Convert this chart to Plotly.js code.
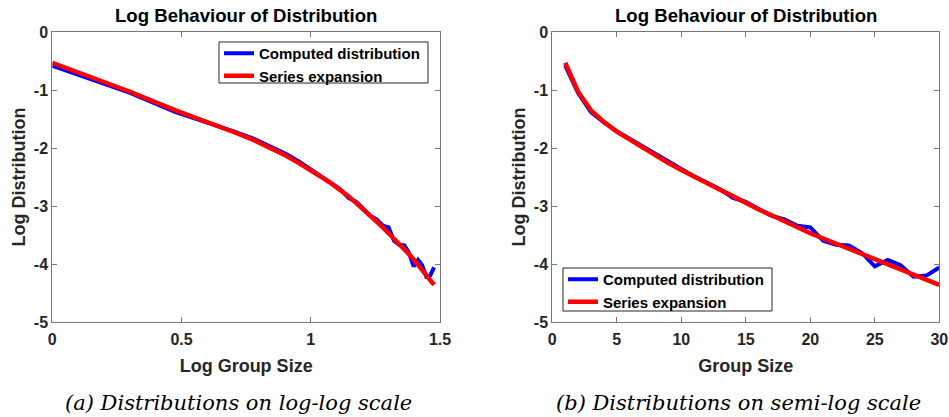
<!DOCTYPE html>
<html>
<head>
<meta charset="utf-8">
<script src="https://cdn.plot.ly/plotly-3.0.1.min.js"></script>
<style>
html,body{margin:0;padding:0;background:#fff;}
#chart{width:949px;height:417px;}
</style>
</head>
<body>
<div id="chart"></div>
<script>
// Group sizes (panel b x values)
var groupSize = [1,2,3,4,5,6,7,8,9,10,11,12,13,14,15,16,17,18,19,20,21,22,23,24,25,26,27,28,29,30];
// Log10 of group sizes (panel a x values)
var logGroupSize = [0,0.301,0.477,0.602,0.699,0.778,0.845,0.903,0.954,1,1.041,1.079,1.114,1.146,1.176,1.204,1.230,1.255,1.279,1.301,1.322,1.342,1.362,1.380,1.398,1.415,1.431,1.447,1.462,1.477];
// Log distribution: computed
var computedLog = [-0.58,-1.05,-1.38,-1.56,-1.71,-1.84,-1.97,-2.10,-2.23,-2.37,-2.49,-2.60,-2.71,-2.86,-2.93,-3.05,-3.17,-3.23,-3.34,-3.37,-3.60,-3.67,-3.68,-3.81,-4.04,-3.93,-4.02,-4.22,-4.20,-4.06];
// Log distribution: series expansion
var seriesLog = [-0.53,-1.03,-1.35,-1.55,-1.72,-1.86,-2.00,-2.13,-2.26,-2.38,-2.50,-2.61,-2.72,-2.83,-2.95,-3.06,-3.16,-3.27,-3.37,-3.47,-3.56,-3.65,-3.74,-3.83,-3.92,-4.01,-4.10,-4.19,-4.28,-4.36];

var seriesNames = ['Computed distribution','Series expansion'];
var seriesColors = ['#0000ff','#ff0000'];

var yTickVals = [0,-1,-2,-3,-4,-5];
var yTickText = ['0','-1','-2','-3','-4','-5'];
var xTickValsA = [0,0.5,1,1.5];
var xTickTextA = ['0','0.5','1','1.5'];
var xTickValsB = [0,5,10,15,20,25,30];
var xTickTextB = ['0','5','10','15','20','25','30'];

var plotTitle = 'Log Behaviour of Distribution';
var xTitleA = 'Log Group Size';
var xTitleB = 'Group Size';
var yTitle = 'Log Distribution';
var captionA = '(a) Distributions on log-log scale';
var captionB = '(b) Distributions on semi-log scale';

(function(){
var W = 949, H = 417;
var fontFam = '"Liberation Sans", Arial, sans-serif';
var tickFont = {family: fontFam, size: 16, color: '#262626', weight: 700};
var titleFont = {family: fontFam, size: 18, color: '#262626', weight: 700};

var traces = [
  {x: logGroupSize, y: computedLog, name: seriesNames[0], mode: 'lines', line: {color: seriesColors[0], width: 4}, xaxis: 'x', yaxis: 'y', legend: 'legend'},
  {x: logGroupSize, y: seriesLog, name: seriesNames[1], mode: 'lines', line: {color: seriesColors[1], width: 4.5}, xaxis: 'x', yaxis: 'y', legend: 'legend'},
  {x: groupSize, y: computedLog, name: seriesNames[0], mode: 'lines', line: {color: seriesColors[0], width: 4}, xaxis: 'x2', yaxis: 'y2', legend: 'legend2'},
  {x: groupSize, y: seriesLog, name: seriesNames[1], mode: 'lines', line: {color: seriesColors[1], width: 4.5}, xaxis: 'x2', yaxis: 'y2', legend: 'legend2'}
];

function axisCommon(extra){
  var a = {
    showgrid: false, zeroline: false, showline: true, linecolor: '#777', linewidth: 1,
    mirror: 'ticks', ticks: 'inside', ticklen: 5, tickcolor: '#777', tickwidth: 1,
    tickfont: tickFont, automargin: false, fixedrange: true
  };
  for (var k in extra) a[k] = extra[k];
  return a;
}

var pl = 52.3, pr = 440, ql = 552.3, qr = 939.3, pt = 32, pb = 322;
var ph = pb - pt;
function py(p){ return 1 - (p - pt)/ph; }

var legFont = {family: fontFam, size: 15, color: '#000', weight: 700};
var legCommon = {xref: 'paper', yref: 'paper', xanchor: 'left', yanchor: 'top', bgcolor: 'rgba(0,0,0,0)', borderwidth: 0,
  font: legFont, tracegroupgap: 0, itemwidth: 30};
var leg1 = Object.assign({}, legCommon, {x: 219/W, y: py(37)});
var leg2 = Object.assign({}, legCommon, {x: 563/W, y: py(263)});

var layout = {
  width: W, height: H,
  margin: {l: 0, r: 0, t: pt, b: H - pb, pad: 0},
  paper_bgcolor: '#fff', plot_bgcolor: '#fff',
  showlegend: true,
  xaxis: axisCommon({domain: [pl/W, pr/W], range: [0,1.5], tickvals: xTickValsA, ticktext: xTickTextA, anchor: 'y', ticklabelstandoff: 3,
    title: {text: xTitleA, font: titleFont, standoff: 12}}),
  yaxis: axisCommon({domain: [0,1], range: [-5,0], tickvals: yTickVals, ticktext: yTickText, anchor: 'x',
    title: {text: yTitle, font: titleFont, standoff: 3}}),
  xaxis2: axisCommon({domain: [ql/W, qr/W], range: [0,30], tickvals: xTickValsB, ticktext: xTickTextB, anchor: 'y2', ticklabelstandoff: 3,
    title: {text: xTitleB, font: titleFont, standoff: 12}}),
  yaxis2: axisCommon({domain: [0,1], range: [-5,0], tickvals: yTickVals, ticktext: yTickText, anchor: 'x2',
    title: {text: yTitle, font: titleFont, standoff: 3}}),
  legend: leg1,
  legend2: leg2,
  shapes: [
    {type: 'rect', xref: 'paper', yref: 'paper', x0: 219/W, x1: 428/W, y0: py(83), y1: py(42), line: {color: '#262626', width: 1}, fillcolor: '#fff', layer: 'below'},
    {type: 'rect', xref: 'paper', yref: 'paper', x0: 563/W, x1: 772/W, y0: py(311), y1: py(268), line: {color: '#262626', width: 1}, fillcolor: '#fff', layer: 'below'}
  ],
  annotations: [
    {text: plotTitle, xref: 'paper', yref: 'paper', x: ((pl+pr)/2)/W, y: py(16), xanchor: 'center', yanchor: 'middle', showarrow: false, font: {family: fontFam, size: 18.6, color: '#000', weight: 700}},
    {text: plotTitle, xref: 'paper', yref: 'paper', x: ((ql+qr)/2)/W, y: py(16), xanchor: 'center', yanchor: 'middle', showarrow: false, font: {family: fontFam, size: 18.6, color: '#000', weight: 700}},
    {text: captionA, xref: 'paper', yref: 'paper', x: 239/W, y: py(403), xanchor: 'center', yanchor: 'middle', showarrow: false, font: {family: '"DejaVu Serif", serif', size: 21, color: '#000', style: 'italic'}},
    {text: captionB, xref: 'paper', yref: 'paper', x: 738/W, y: py(403), xanchor: 'center', yanchor: 'middle', showarrow: false, font: {family: '"DejaVu Serif", serif', size: 21, color: '#000', style: 'italic'}}
  ]
};

Plotly.newPlot('chart', traces, layout, {staticPlot: true, displayModeBar: false});
})();
</script>
</body>
</html>
